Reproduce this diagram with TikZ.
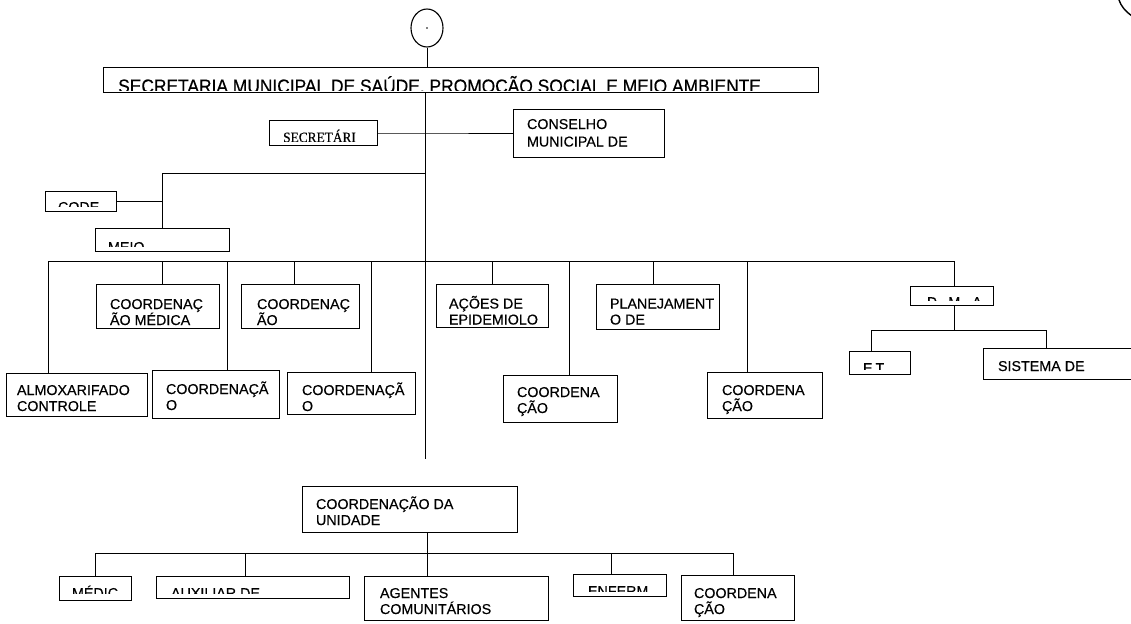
\documentclass[tikz,border=0pt]{standalone}
\usepackage{fontspec}
\setmainfont{Liberation Sans}[FakeBold=0.35]
\newfontfamily\serifface{Liberation Serif}[FakeBold=0.35]
\usetikzlibrary{fit,shapes.geometric}
\tikzset{
  obx/.style={draw, line width=1pt, inner sep=0pt, outer sep=0pt},
  txt/.style={inner sep=0pt, outer sep=0pt, align=left, font=\fontsize{14.3}{16}\selectfont},
  ln/.style={line width=1pt},
}
% name, x1, y1, x2, y2
\newcommand\obox[5]{\node[obx, fit={(#2,#3) (#4,#5)}] (#1) {};}
% name, x1, y1, x2, clipy, tx, baseline, text
\newcommand\otext[8]{\begin{scope}\clip (#2,#3) rectangle (#4,#5);
  \node[txt, anchor=north west] (#1) at ({#6},{#7-14}) {\rule{0pt}{14pt}#8};\end{scope}}
\begin{document}
\begin{tikzpicture}[x=1pt,y=-1pt]
\useasboundingbox (0,0) rectangle (1131,623);
\clip (0,0) rectangle (1131,623);
% top circle
\node[draw, ellipse, line width=1.1pt, minimum width=32pt, minimum height=38pt, inner sep=0pt] (circ) at (427,28) {};
\fill (circ.center) circle (0.9pt);
% stray arc top right
\draw[line width=1.4pt] (1119,0) .. controls (1121,6) and (1125,11) .. (1132,16);

% title
\obox{title}{103}{68}{818}{93}
\begin{scope}\clip (103,68) rectangle (818,91);
\node[inner sep=0pt, anchor=north west, font=\fontsize{19}{21}\selectfont] (titlet) at (118,{92.5-19}) {\rule{0pt}{19pt}\scalebox{0.915}[1]{SECRETARIA MUNICIPAL DE SAÚDE, PROMOÇÃO SOCIAL E MEIO AMBIENTE}};
\end{scope}

\obox{secr}{269}{120}{377}{145}
\begin{scope}\clip (269,120) rectangle (377,141);
\node[inner sep=0pt, anchor=north west, font=\serifface\fontsize{14.5}{15}\selectfont] (secrt) at (283,{142-14}) {\rule{0pt}{14pt}\scalebox{0.92}[1]{SECRETÁRI}};
\end{scope}

\obox{cons}{513}{110}{664}{157}
\otext{const}{513}{110}{664}{157}{527}{129}{CONSELHO\\[1.5pt]MUNICIPAL DE}

\obox{code}{45}{191}{116}{211}
\otext{codet}{45}{191}{116}{206}{58}{212}{CODE}

\obox{meio}{95}{228}{229}{251}
\otext{meiot}{95}{228}{229}{246}{108}{252}{MEIO}

% level boxes
\obox{almox}{6}{373}{147}{416}
\otext{almoxt}{6}{373}{147}{416}{17}{395}{ALMOXARIFADO\\CONTROLE}
\obox{med}{96}{284}{219}{328}
\otext{medt}{96}{284}{219}{325}{110}{309}{COORDENAÇ\\ÃO MÉDICA}
\obox{ca1}{152}{370}{279}{418}
\otext{ca1t}{152}{370}{279}{418}{166}{394}{COORDENAÇÃ\\O}
\obox{cb}{241}{284}{359}{328}
\otext{cbt}{241}{284}{359}{328}{257}{309}{COORDENAÇ\\ÃO}
\obox{ca2}{287}{372}{415}{414}
\otext{ca2t}{287}{372}{415}{414}{302}{395}{COORDENAÇÃ\\O}
\obox{acoes}{436}{284}{548}{327}
\otext{acoest}{436}{284}{548}{327}{449}{308.5}{AÇÕES DE\\EPIDEMIOLO}
\obox{cc1}{503}{375}{617}{422}
\otext{cc1t}{503}{375}{617}{422}{517}{397}{COORDENA\\ÇÃO}
\obox{plan}{596}{284}{719}{329}
\otext{plant}{596}{284}{719}{329}{610}{308.5}{PLANEJAMENT\\O DE}
\obox{cc2}{707}{372}{822}{418}
\otext{cc2t}{707}{372}{822}{418}{722}{395}{COORDENA\\ÇÃO}
\obox{dma}{910}{286}{993}{305}
\otext{dmat}{910}{286}{993}{300}{927}{307}{D\hspace{11pt}M\hspace{12pt}A}
\obox{et}{849}{351}{910}{374}
\otext{ett}{849}{351}{910}{369}{863}{373}{E\hspace{3pt}T}
\obox{sist}{983}{348}{1140}{379}
\otext{sistt}{983}{348}{1140}{379}{998}{371}{SISTEMA DE}

% bottom group
\obox{unid}{302}{486}{517}{532}
\otext{unidt}{302}{486}{517}{532}{316}{509}{COORDENAÇÃO DA\\UNIDADE}
\obox{medic}{59}{576}{131}{600}
\otext{medict}{59}{576}{131}{593}{72}{598}{MÉDIC}
\obox{aux}{156}{576}{349}{598}
\otext{auxt}{156}{576}{349}{593}{171}{598}{AUXILIAR DE}
\obox{agen}{364}{576}{548}{620}
\otext{agent}{364}{576}{548}{620}{380}{598}{AGENTES\\COMUNITÁRIOS}
\obox{enf}{573}{574}{666}{596}
\otext{enft}{573}{574}{666}{591}{588}{596}{ENFERM}
\obox{cd}{681}{575}{794}{620}
\otext{cdt}{681}{575}{794}{620}{694}{598}{COORDENA\\ÇÃO}

% connectors
\coordinate (mainend) at (425,459);
\draw[ln] (circ.south) -- (circ.south |- title.north);
\draw[ln] (title.south -| mainend) -- (mainend);
\coordinate (j1) at (425,133);
\draw[ln] (secr.east |- j1) -- (j1) -- (cons.west |- j1);
\coordinate (j2) at (425,173);
\coordinate (j2l) at (162,173);
\draw[ln] (j2) -- (j2l) -- (j2l |- meio.north);
\draw[ln] (code.east) -- (code.east -| j2l);
% main bus
\coordinate (busl) at (48,261);
\coordinate (busr) at (954,261);
\draw[ln] (busl) -- (busr);
\foreach \xx/\nn in {48/almox,162/med,227/ca1,294/cb,371/ca2,492/acoes,569/cc1,653/plan,747/cc2,954/dma}{
  \coordinate (d\nn) at (\xx,261);
  \draw[ln] (d\nn) -- (d\nn |- \nn.north);
}
\coordinate (dmaj) at (954,330);
\coordinate (dmal) at (871,330);
\coordinate (dmar) at (1046,330);
\draw[ln] (dma.south -| dmaj) -- (dmaj);
\draw[ln] (dmal) -- (dmar);
\draw[ln] (dmal) -- (dmal |- et.north);
\draw[ln] (dmar) -- (dmar |- sist.north);
% bottom bus
\coordinate (ubus) at (427,553);
\draw[ln] (unid.south -| ubus) -- (ubus);
\coordinate (ubl) at (95,553);
\coordinate (ubr) at (733,553);
\draw[ln] (ubl) -- (ubr);
\foreach \xx/\nn in {95/medic,245/aux,427/agen,611/enf,733/cd}{
  \coordinate (u\nn) at (\xx,553);
  \draw[ln] (u\nn) -- (u\nn |- \nn.north);
}
\end{tikzpicture}
\end{document}
